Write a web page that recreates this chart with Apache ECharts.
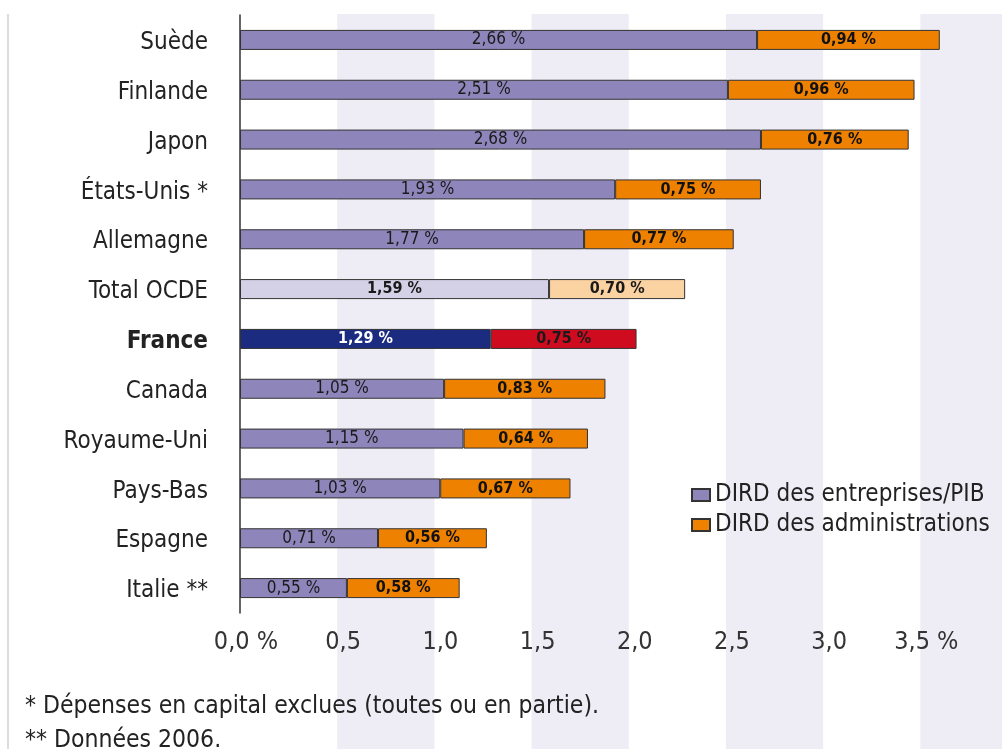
<!DOCTYPE html>
<html>
<head>
<meta charset="utf-8">
<script src="https://cdn.jsdelivr.net/npm/echarts@6/dist/echarts.min.js"></script>
<style>
  html, body { margin: 0; padding: 0; background: #fff; }
  #main { width: 1002px; height: 749px; }
</style>
</head>
<body>
<div id="main"></div>
<script>
var categories = ['Suède', 'Finlande', 'Japon', 'États-Unis *', 'Allemagne', 'Total OCDE',
  'France', 'Canada', 'Royaume-Uni', 'Pays-Bas', 'Espagne', 'Italie **'];
var entreprises = [2.66, 2.51, 2.68, 1.93, 1.77, 1.59, 1.29, 1.05, 1.15, 1.03, 0.71, 0.55];
var administrations = [0.94, 0.96, 0.76, 0.75, 0.77, 0.70, 0.75, 0.83, 0.64, 0.67, 0.56, 0.58];
var footnotes = ['* Dépenses en capital exclues (toutes ou en partie).', '** Données 2006.'];

var font = "'Liberation Sans Narrow', 'DejaVu Sans Condensed', sans-serif";
var myChart = echarts.init(document.getElementById('main'));

function pct(v) {
  return v.toFixed(2).replace('.', ',') + ' %';
}

// couleurs particulières : Total OCDE en pâle, France en bleu/rouge
var special = {
  'Total OCDE': { a: '#d4d0e6', b: '#fbd3a3', la: '#1a1a1a', lb: '#1a1a1a' },
  'France': { a: '#1b2b80', b: '#cf0b1f', la: '#ffffff', lb: '#1a1a1a' }
};

var dataA = entreprises.map(function (v, i) {
  var s = special[categories[i]];
  if (!s) return v;
  return { value: v, itemStyle: { color: s.a }, label: { color: s.la, fontWeight: 'bold', fontSize: 16 } };
});
var dataB = administrations.map(function (v, i) {
  var s = special[categories[i]];
  if (!s) return v;
  return { value: v, itemStyle: { color: s.b }, label: { color: s.lb } };
});

myChart.setOption({
  animation: false,
  textStyle: { fontFamily: font },
  grid: [
    { left: 240, right: 0, top: 15, height: 598 },
    { left: 240, right: 0, top: 14, bottom: 0 }
  ],
  xAxis: [
    {
      type: 'value', gridIndex: 0, min: 0, max: 3.92, interval: 0.5,
      axisLine: { show: false },
      axisTick: { show: false },
      splitLine: { show: false },
      axisLabel: {
        showMaxLabel: false,
        margin: 17,
        fontSize: 25,
        color: '#333',
        padding: [0, 0, 0, 12],
        formatter: function (v) {
          var s = v.toFixed(1).replace('.', ',');
          return (v === 0 || v === 3.5) ? s + ' %' : s;
        }
      }
    },
    {
      type: 'value', gridIndex: 1, min: 0, max: 3.92, interval: 0.5,
      axisLine: { show: false },
      axisTick: { show: false },
      axisLabel: { show: false },
      splitLine: { show: false },
      splitArea: { show: true, areaStyle: { color: ['rgba(255,255,255,0)', '#eeedf6'] } }
    }
  ],
  yAxis: [
    {
      type: 'category', gridIndex: 0, data: categories, inverse: true,
      axisLine: { lineStyle: { color: '#333', width: 1.5 } },
      axisTick: { length: 7, lineStyle: { color: '#333', width: 1.5 } },
      axisLabel: {
        margin: 32,
        fontSize: 24,
        color: '#222',
        padding: [6, 0, 0, 0],
        formatter: function (v) {
          return v === 'France' ? '{b|' + v + '}' : v;
        },
        rich: { b: { fontWeight: 'bold', fontSize: 24, color: '#222', fontFamily: font } }
      }
    },
    { type: 'value', gridIndex: 1, show: false }
  ],
  legend: {
    orient: 'vertical',
    left: 686,
    top: 478,
    itemWidth: 18,
    itemHeight: 12,
    itemGap: 6,
    icon: 'rect',
    textStyle: { fontSize: 24, color: '#222', fontFamily: font },
    data: ['DIRD des entreprises/PIB', 'DIRD des administrations']
  },
  graphic: [
    { type: 'line', z: 10, shape: { x1: 8, y1: 14, x2: 8, y2: 749 }, style: { stroke: '#dddddd', lineWidth: 2 } },
    { type: 'text', z: 10, left: 25, top: 694, style: { text: footnotes[0], font: '24.5px ' + font, fill: '#222' } },
    { type: 'text', z: 10, left: 25, top: 728, style: { text: footnotes[1], font: '24.5px ' + font, fill: '#222' } }
  ],
  series: [
    {
      name: 'DIRD des entreprises/PIB',
      type: 'bar',
      stack: 'total',
      barWidth: 20,
      itemStyle: { color: '#8e86bb', borderColor: '#333', borderWidth: 1 },
      label: {
        show: true, position: 'inside', fontSize: 17, color: '#1a1a1a',
        formatter: function (p) { return pct(p.value); }
      },
      data: dataA
    },
    {
      name: 'DIRD des administrations',
      type: 'bar',
      stack: 'total',
      barWidth: 20,
      itemStyle: { color: '#ee8100', borderColor: '#333', borderWidth: 1 },
      label: {
        show: true, position: 'inside', fontSize: 16, color: '#111', fontWeight: 'bold',
        formatter: function (p) { return pct(p.value); }
      },
      data: dataB
    },
    { type: 'bar', xAxisIndex: 1, yAxisIndex: 1, data: [], silent: true }
  ]
});
</script>
</body>
</html>
